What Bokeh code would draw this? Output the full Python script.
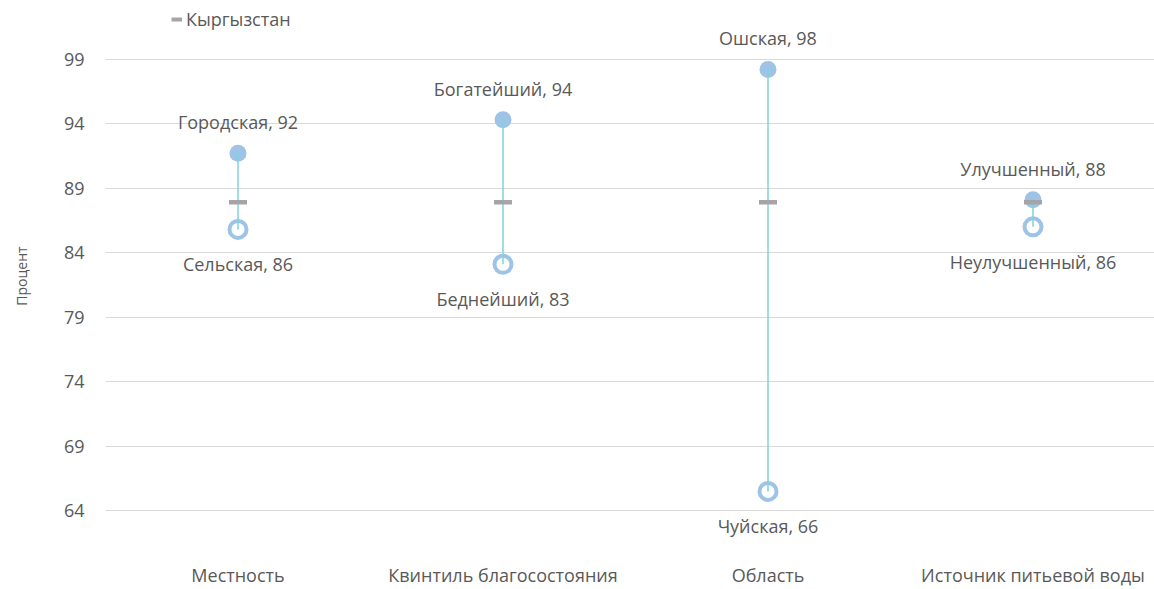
from bokeh.plotting import figure
from bokeh.models import ColumnDataSource, FixedTicker, Range1d, Legend, LegendItem
from bokeh.core.properties import value
from bokeh.embed import file_html
from bokeh.resources import INLINE

categories = ["Местность", "Квинтиль благосостояния", "Область", "Источник питьевой воды"]
top_names = ["Городская", "Богатейший", "Ошская", "Улучшенный"]
top_values = [91.7, 94.3, 98.2, 88.1]
bottom_names = ["Сельская", "Беднейший", "Чуйская", "Неулучшенный"]
bottom_values = [85.8, 83.1, 65.5, 86.0]
national_name = "Кыргызстан"
national_value = [87.9, 87.9, 87.9, 87.9]
y_ticks = [64, 69, 74, 79, 84, 89, 94, 99]
y_title = "Процент"

FONT = "Open Sans"
TXT = "#595959"
FS = "18px"

xs = [i + 0.5 for i in range(len(categories))]
src = ColumnDataSource(dict(
    x=xs,
    top=top_values,
    bottom=bottom_values,
    nat=national_value,
    top_lbl=[f"{n}, {int(v + 0.5)}" for n, v in zip(top_names, top_values)],
    bot_lbl=[f"{n}, {int(v + 0.5)}" for n, v in zip(bottom_names, bottom_values)],
))

W, H = 1154, 589
frame_left = 105
frame_w = W - frame_left
px_per_cat = 265.0
frame_h = 555
px_per_unit = 13.0
y_top = 99 + 59 / px_per_unit
y_bot = y_top - frame_h / px_per_unit

p = figure(width=W, height=H, output_backend="svg", toolbar_location=None,
           x_range=Range1d(0, frame_w / px_per_cat), y_range=Range1d(y_bot, y_top),
           min_border_left=frame_left, min_border_right=0, min_border_top=0,
           min_border_bottom=H - frame_h)
p.outline_line_color = None
p.background_fill_color = "white"
p.border_fill_color = "white"

p.xgrid.visible = False
p.ygrid.grid_line_color = "#d9d9d9"
p.ygrid.grid_line_width = 1
p.yaxis.ticker = FixedTicker(ticks=y_ticks)
p.xaxis.ticker = FixedTicker(ticks=xs)
p.xaxis.major_label_overrides = {x: c for x, c in zip(xs, categories)}

for ax in (p.xaxis[0], p.yaxis[0]):
    ax.axis_line_color = None
    ax.major_tick_line_color = None
    ax.minor_tick_line_color = None
    ax.major_tick_out = 0
    ax.major_tick_in = 0
    ax.major_label_text_color = TXT
    ax.major_label_text_font = FONT
    ax.major_label_text_font_size = FS
p.xaxis.major_label_standoff = 11
p.yaxis.major_label_standoff = 21
p.yaxis.axis_label = y_title
p.yaxis.axis_label_text_font = FONT
p.yaxis.axis_label_text_font_size = "14px"
p.yaxis.axis_label_text_font_style = "normal"
p.yaxis.axis_label_text_color = TXT
p.yaxis.axis_label_standoff = 30

MC = "#9dc3e6"
p.scatter("x", "top", source=src, size=17, fill_color=MC, line_color=None)
p.scatter("x", "bottom", source=src, size=17, fill_color="white", line_color=MC, line_width=4)
p.segment(x0="x", y0="top", x1="x", y1="bottom", source=src, line_color="#7fd3dc", line_width=1.5)
p.scatter("x", "nat", source=src, marker="dash", size=18, line_color="#a5a5a5", line_width=4.5)

p.text("x", "top", text="top_lbl", source=src, y_offset=-31, text_align="center",
       text_baseline="middle", text_font=value(FONT), text_font_size=FS, text_color=TXT)
p.text("x", "bottom", text="bot_lbl", source=src, y_offset=35, text_align="center",
       text_baseline="middle", text_font=value(FONT), text_font_size=FS, text_color=TXT)

# legend proxy (no visible data)
nan = float("nan")
proxy = p.line(x=[nan, nan], y=[nan, nan], line_color="#a5a5a5", line_width=4)
legend = Legend(items=[LegendItem(label=national_name, renderers=[proxy])],
                location=(66, frame_h - 35), padding=0, margin=0, spacing=0,
                glyph_width=11, glyph_height=24, label_height=24, label_standoff=4,
                label_text_font=FONT, label_text_font_size=FS, label_text_color=TXT,
                background_fill_alpha=0, border_line_color=None)
p.add_layout(legend)

open("out.html", "w").write(file_html(p, INLINE))
